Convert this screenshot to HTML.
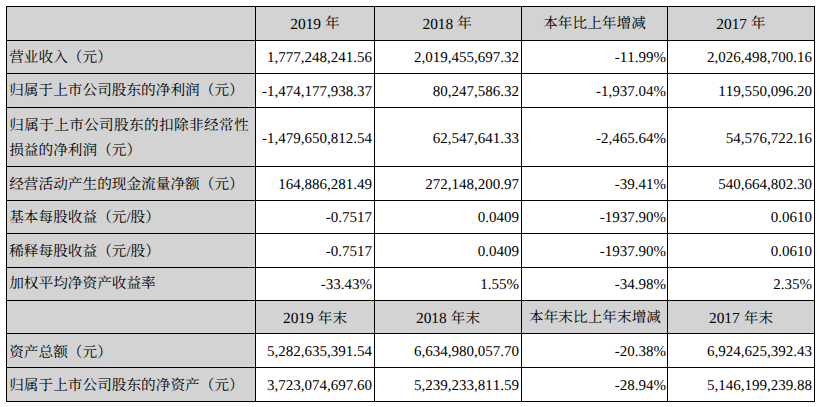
<!DOCTYPE html><html lang="zh-CN"><head><meta charset="utf-8"><title>主要会计数据和财务指标</title><style>
html,body{margin:0;padding:0;background:#fff}
body{width:821px;height:407px;position:relative;overflow:hidden;font-family:"Liberation Serif",serif;font-size:15px;color:#000;text-rendering:geometricPrecision;font-kerning:none}
table{position:absolute;left:6px;top:6px;border-collapse:collapse;table-layout:fixed;border-spacing:0}
td{border:1px solid #000;padding:0;vertical-align:middle;white-space:nowrap;overflow:hidden;line-height:16px}
td.l,tr.h td{background:#d3d3d3}
td.l{padding-left:2.2px;text-align:left}
td.n{text-align:right;padding-right:2px;padding-top:2px}
td.n:nth-child(4){padding-right:1px}
tr.t2 td.n{padding-top:3.8px}
tr.h td{text-align:center}
span.cj{display:inline-block;vertical-align:middle;height:16.67px;line-height:16.67px;font-size:14.67px;font-family:"Liberation Serif","Noto Serif CJK SC",serif;color:#000;white-space:nowrap}
td.l span.cj{display:block;position:relative;top:1px}
td.l span.cj~span.cj{margin-top:8.5px}
.hn{font-size:15.4px;vertical-align:middle;position:relative;top:0.9px}
span.hy{margin-left:4px}
tr.h span.cj{position:relative;top:1.2px}
tr.h span.hy{top:1.0px}
</style></head><body>
<table><colgroup><col style="width:249px"><col style="width:119px"><col style="width:147px"><col style="width:146px"><col style="width:147px"></colgroup>
<tr class="h" style="height:34px">
<td class="l"></td>
<td class="c"><span class="hn">2019</span><span class="cj hy">年</span></td>
<td class="c" style="padding-right:1.6px"><span class="hn">2018</span><span class="cj hy">年</span></td>
<td class="c"><span class="cj">本年比上年增减</span></td>
<td class="c"><span class="hn">2017</span><span class="cj hy">年</span></td>
</tr>
<tr class="d" style="height:33px">
<td class="l"><span class="cj" style="left:0px;top:1.6px">营业收入（元）</span></td>
<td class="n">1,777,248,241.56</td>
<td class="n">2,019,455,697.32</td>
<td class="n">-11.99%</td>
<td class="n">2,026,498,700.16</td>
</tr>
<tr class="d" style="height:34px">
<td class="l"><span class="cj">归属于上市公司股东的净利润（元）</span></td>
<td class="n">-1,474,177,938.37</td>
<td class="n">80,247,586.32</td>
<td class="n">-1,937.04%</td>
<td class="n">119,550,096.20</td>
</tr>
<tr class="d t2" style="height:59px">
<td class="l"><span class="cj" style="left:0px;top:1.75px;letter-spacing:0.33px">归属于上市公司股东的扣除非经常性</span><span class="cj" style="left:0px;top:1.75px">损益的净利润（元）</span></td>
<td class="n">-1,479,650,812.54</td>
<td class="n">62,547,641.33</td>
<td class="n">-2,465.64%</td>
<td class="n">54,576,722.16</td>
</tr>
<tr class="d" style="height:34px">
<td class="l"><span class="cj" style="left:0px;top:1.7px">经营活动产生的现金流量净额（元）</span></td>
<td class="n">164,886,281.49</td>
<td class="n">272,148,200.97</td>
<td class="n">-39.41%</td>
<td class="n">540,664,802.30</td>
</tr>
<tr class="d" style="height:33px">
<td class="l"><span class="cj" style="left:0px;top:1.2px">基本每股收益（元/股）</span></td>
<td class="n">-0.7517</td>
<td class="n">0.0409</td>
<td class="n">-1937.90%</td>
<td class="n">0.0610</td>
</tr>
<tr class="d" style="height:34px">
<td class="l"><span class="cj" style="left:0px;top:1.6px">稀释每股收益（元/股）</span></td>
<td class="n" style="padding-top:2.4px">-0.7517</td>
<td class="n" style="padding-top:2.4px">0.0409</td>
<td class="n" style="padding-top:2.4px">-1937.90%</td>
<td class="n" style="padding-top:2.4px">0.0610</td>
</tr>
<tr class="d" style="height:33px">
<td class="l"><span class="cj" style="left:0px;top:0.7px">加权平均净资产收益率</span></td>
<td class="n" style="padding-top:2.4px">-33.43%</td>
<td class="n" style="padding-top:2.4px">1.55%</td>
<td class="n" style="padding-top:2.4px">-34.98%</td>
<td class="n" style="padding-top:2.4px">2.35%</td>
</tr>
<tr class="h" style="height:33px">
<td class="l"></td>
<td class="c" style="padding-top:1.6px"><span class="hn">2019</span><span class="cj hy">年末</span></td>
<td class="c" style="padding-top:1.6px"><span class="hn">2018</span><span class="cj hy">年末</span></td>
<td class="c" style="padding-left:1.0px;padding-top:0.6px"><span class="cj">本年末比上年末增减</span></td>
<td class="c" style="padding-top:1.6px"><span class="hn">2017</span><span class="cj hy">年末</span></td>
</tr>
<tr class="d" style="height:34px">
<td class="l"><span class="cj" style="left:0px;top:2.5px">资产总额（元）</span></td>
<td class="n" style="padding-top:3.8px">5,282,635,391.54</td>
<td class="n" style="padding-top:3.8px">6,634,980,057.70</td>
<td class="n" style="padding-top:3.8px">-20.38%</td>
<td class="n" style="padding-top:3.8px">6,924,625,392.43</td>
</tr>
<tr class="d" style="height:34px">
<td class="l"><span class="cj" style="left:0px;top:1.7px">归属于上市公司股东的净资产（元）</span></td>
<td class="n" style="padding-top:3.0px">3,723,074,697.60</td>
<td class="n" style="padding-top:3.0px">5,239,233,811.59</td>
<td class="n" style="padding-top:3.0px">-28.94%</td>
<td class="n" style="padding-top:3.0px">5,146,199,239.88</td>
</tr>
</table></body></html>
